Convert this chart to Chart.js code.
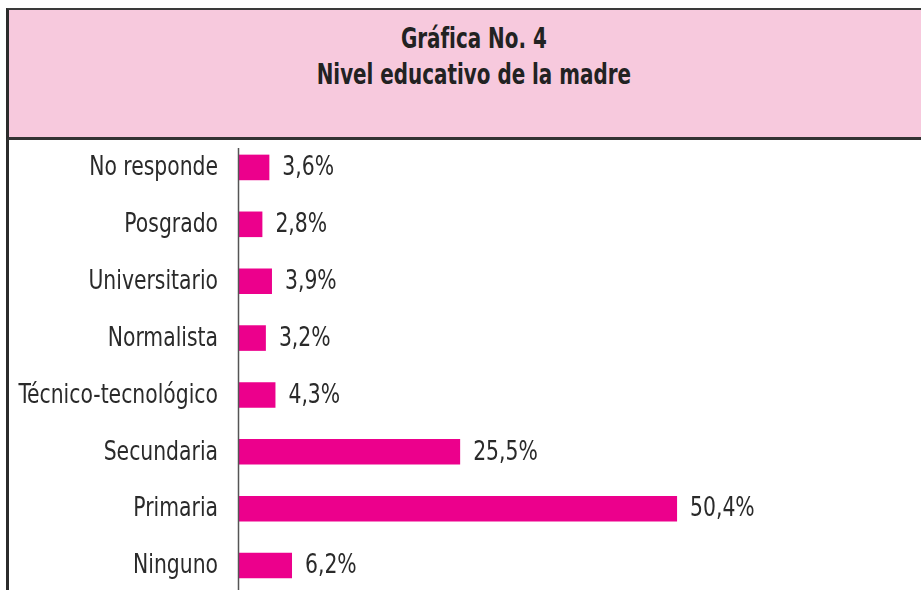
<!DOCTYPE html>
<html lang="es">
<head>
<meta charset="utf-8">
<title>Nivel educativo de la madre</title>
<script src="https://cdn.jsdelivr.net/npm/chart.js@4.4.1/dist/chart.umd.min.js"></script>
<style>
  html, body { margin: 0; padding: 0; background: #fff; overflow: hidden; }
  body { width: 921px; height: 590px; position: relative; }
  .frame {
    position: absolute; left: 6px; top: 8px; width: 3px; height: 590px;
    background: #2b2b2b;
  }
  .header {
    position: absolute; left: 6px; top: 8px; width: 940px; height: 127px;
    background: #f7c9dd;
    border-top: 2px solid #3a3a3a; border-bottom: 3px solid #333;
    border-left: 3px solid #2b2b2b;
    font-family: 'DejaVu Sans Condensed', 'DejaVu Sans', sans-serif;
    font-weight: bold; font-size: 28px; color: #222;
  }
  .header .t1, .header .t2 {
    position: absolute; left: 4px; width: 921px; text-align: center; line-height: 1;
    transform: scaleX(0.79); transform-origin: 462px 0;
  }
  .header .t1 { top: 15px; }
  .header .t2 { top: 51px; }
  .plot { position: absolute; left: 0; top: 139px; }
</style>
</head>
<body>
<div class="frame"></div>
<div class="header">
  <div class="t1">Gráfica No. 4</div>
  <div class="t2">Nivel educativo de la madre</div>
</div>
<div class="plot"><canvas id="chart" width="921" height="455"></canvas></div>
<script>
  // ---- Data ------------------------------------------------
  const categories = [
    'No responde', 'Posgrado', 'Universitario', 'Normalista',
    'Técnico-tecnológico', 'Secundaria', 'Primaria', 'Ninguno'
  ];
  const percentages = [3.6, 2.8, 3.9, 3.2, 4.3, 25.5, 50.4, 6.2];

  const FONT = "'DejaVu Sans Condensed', 'DejaVu Sans', sans-serif";
  const MAGENTA = '#ec008c';
  const INK = '#2a2a2a';
  const SQUEEZE = 0.87;   // narrow the condensed face a bit more

  // 50,4 -> "50,4%"
  function pct(v) {
    return v.toFixed(1).replace('.', ',') + '%';
  }

  function narrowText(ctx, text, x, y, align) {
    ctx.save();
    ctx.translate(x, y);
    ctx.scale(SQUEEZE, 1);
    ctx.textAlign = align;
    ctx.fillText(text, 0, 0);
    ctx.restore();
  }

  // Axis rule, category names left of it, values just past each bar end
  const barText = {
    id: 'barText',
    afterDatasetsDraw(chart) {
      const ctx = chart.ctx;
      const area = chart.chartArea;
      const yScale = chart.scales.y;
      const meta = chart.getDatasetMeta(0);
      ctx.save();
      ctx.strokeStyle = '#555555';
      ctx.lineWidth = 1.5;
      ctx.beginPath();
      ctx.moveTo(area.left + 0.5, area.top + 9);
      ctx.lineTo(area.left + 0.5, area.bottom);
      ctx.stroke();

      ctx.font = '26px ' + FONT;
      ctx.fillStyle = INK;
      ctx.textBaseline = 'middle';
      categories.forEach((name, i) => {
        narrowText(ctx, name, yScale.right - 20, yScale.getPixelForTick(i) + 1, 'right');
      });
      meta.data.forEach((bar, i) => {
        narrowText(ctx, pct(percentages[i]), bar.x + 13, bar.y + 1, 'left');
      });
      ctx.restore();
    }
  };

  new Chart(document.getElementById('chart'), {
    type: 'bar',
    data: {
      labels: categories,
      datasets: [{
        data: percentages,
        backgroundColor: MAGENTA,
        borderWidth: 0,
        categoryPercentage: 1,
        barPercentage: 0.45
      }]
    },
    plugins: [barText],
    options: {
      indexAxis: 'y',
      responsive: false,
      animation: false,
      layout: { padding: 0 },
      plugins: {
        legend: { display: false },
        tooltip: { enabled: false }
      },
      scales: {
        x: {
          display: false,
          min: 0,
          max: 78.4
        },
        y: {
          afterFit(scale) { scale.width = 238; },
          grid: { display: false, drawTicks: false },
          border: { display: false },
          ticks: { display: false }
        }
      }
    }
  });
</script>
</body>
</html>
